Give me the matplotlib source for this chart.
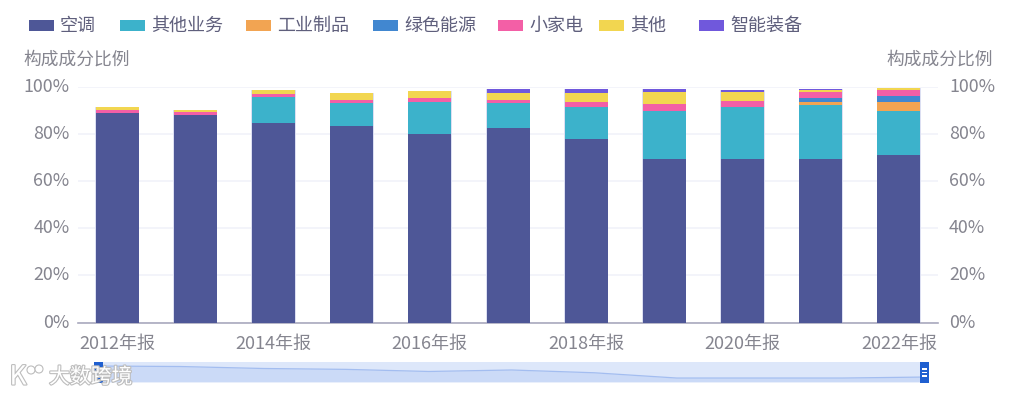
import matplotlib
matplotlib.use('Agg')
import matplotlib.pyplot as plt
from matplotlib.patches import Rectangle, Circle
from matplotlib.transforms import ScaledTranslation
import matplotlib.patheffects as pe
import numpy as np

plt.rcParams['font.family'] = ['Noto Sans CJK SC', 'DejaVu Sans']

years = ['2012年报', '2013年报', '2014年报', '2015年报', '2016年报', '2017年报',
         '2018年报', '2019年报', '2020年报', '2021年报', '2022年报']
names = ['空调', '其他业务', '工业制品', '绿色能源', '小家电', '其他', '智能装备']
colors = ['#4e5797', '#3cb2cb', '#f2a452', '#4187d0', '#f35fa6', '#f2d650', '#7058dc']

kongtiao = [88.8, 88.0, 84.8, 83.4, 80.0, 82.4, 77.9, 69.4, 69.4, 69.4, 71.0]
qita_yewu = [0.3, 0.0, 10.8, 9.6, 13.6, 10.6, 13.7, 20.5, 22.0, 22.8, 18.8]
gongye = [0, 0, 0, 0, 0, 0, 0, 0, 0, 1.6, 4.0]
lvse = [0, 0, 0, 0, 0, 0, 0, 0, 0, 1.7, 2.5]
xiaojiadian = [1.2, 1.4, 1.3, 1.5, 1.7, 1.5, 1.9, 2.7, 2.5, 2.4, 2.4]
qita = [1.0, 0.8, 1.7, 2.8, 3.0, 2.8, 4.1, 5.1, 4.1, 0.8, 0.7]
zhineng = [0, 0, 0, 0, 0, 1.7, 1.7, 1.3, 0.7, 0.6, 0.1]
series = [kongtiao, qita_yewu, gongye, lvse, xiaojiadian, qita, zhineng]

W, H = 1019, 396
TEXT = '#85858f'
LEG = '#5f5f7c'

fig = plt.figure(figsize=(W / 100, H / 100), dpi=100)
ax = fig.add_axes([78 / W, 1 - 322.5 / H, 860 / W, 235.5 / H])

x = np.arange(len(years))
# pale rim round each whole stack
totals = np.sum(np.array(series, dtype=float), axis=0)
ax.bar(x, totals, 0.565, color='#dcdff2', linewidth=0, zorder=2)
bottom = np.zeros(len(years))
for vals, c in zip(series, colors):
    vals = np.array(vals, dtype=float)
    ax.bar(x, vals, 0.55, bottom=bottom, color=c, linewidth=0, zorder=3)
    bottom += vals

ax.set_xlim(-0.5, 10.5)
ax.set_ylim(0, 100)
yt = [0, 20, 40, 60, 80, 100]
ax.set_yticks(yt)
ax.set_yticklabels([f'{v}%' for v in yt], fontsize=12.8, color=TEXT)
ax.set_xticks(x[::2])
ax.set_xticklabels(years[::2], fontsize=13, color=TEXT)
ax.tick_params(axis='y', length=0, pad=6)
ax.tick_params(axis='x', length=0, pad=9)
ax.grid(axis='y', color='#f1f2f9', linewidth=1.2, zorder=0)
ax.set_axisbelow(True)
for s in ['top', 'left', 'right']:
    ax.spines[s].set_visible(False)
ax.spines['bottom'].set_color('#a9a9bd')
ax.spines['bottom'].set_linewidth(1.2)

ax2 = ax.twinx()
ax2.set_ylim(0, 100)
ax2.set_yticks(yt)
ax2.set_yticklabels([f'{v}%' for v in yt], fontsize=12.8, color=TEXT)
ax2.tick_params(axis='y', length=0, pad=8)
for s in ax2.spines.values():
    s.set_visible(False)

# y labels sit about 2px above the gridlines
up = ScaledTranslation(0, 2 / 100, fig.dpi_scale_trans)
for lab in ax.get_yticklabels() + ax2.get_yticklabels():
    lab.set_transform(lab.get_transform() + up)

fig.text(23 / W, 1 - 60 / H, '构成成分比例', fontsize=12.8, color=TEXT, va='center', ha='left')
fig.text(993 / W, 1 - 60 / H, '构成成分比例', fontsize=12.8, color=TEXT, va='center', ha='right')

# legend placed by hand
leg_x = [29, 120, 246, 373, 498, 599, 699]
for lx, n, c in zip(leg_x, names, colors):
    fig.add_artist(Rectangle((lx / W, 1 - 31 / H), 25 / W, 11 / H, transform=fig.transFigure,
                             facecolor=c, edgecolor='none'))
    fig.text((lx + 31) / W, 1 - 26 / H, n, fontsize=13, color=LEG, va='center', ha='left')

# data zoom slider
sl = fig.add_axes([98 / W, 1 - 382 / H, 827 / W, 20 / H])
sl.set_facecolor('#dde7fa')
sl.set_xlim(0, 10)
sl.set_ylim(63, 95.3)
sl.plot(x, kongtiao, color='#a3bdf0', linewidth=0.9)
sl.fill_between(x, kongtiao, 63, color='#c5d6f6', alpha=0.75, linewidth=0)
sl.set_xticks([])
sl.set_yticks([])
for s in sl.spines.values():
    s.set_visible(False)

for hx in [94, 920]:
    fig.add_artist(Rectangle((hx / W, 1 - 382.5 / H), 9 / W, 20.5 / H, transform=fig.transFigure,
                             facecolor='#1f5fd0', edgecolor='none', zorder=5))
    for dy in [369, 372.5, 376]:
        fig.add_artist(Rectangle(((hx + 2) / W, 1 - (dy + 0.7) / H), 5 / W, 1.4 / H, transform=fig.transFigure,
                                 facecolor='white', edgecolor='none', zorder=6))

# watermark
halo = [pe.withStroke(linewidth=1.6, foreground='#bdbdbd')]
fig.text(49 / W, 1 - 377 / H, '大数跨境', fontsize=15, color='white', va='center', ha='left',
         path_effects=halo, zorder=8)
fig.text(18 / W, 1 - 377 / H, 'K', fontsize=19, color='white', va='center', ha='center',
         path_effects=halo, zorder=8)
for cx, cy, r in [(31, 370, 4), (39, 369, 4)]:
    c = Circle((cx, H - cy), r, transform=None, facecolor='white', edgecolor='#bdbdbd',
               linewidth=0.8, zorder=8)
    fig.add_artist(c)

fig.savefig('out.png', dpi=100)
